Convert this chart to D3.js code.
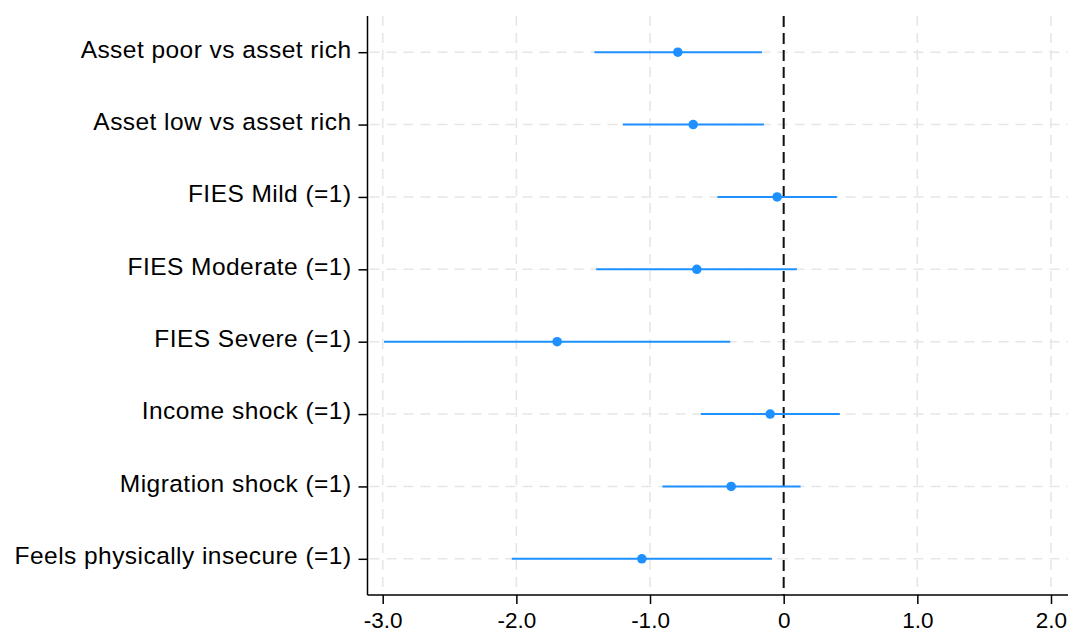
<!DOCTYPE html>
<html>
<head>
<meta charset="utf-8">
<script src="https://cdn.jsdelivr.net/npm/d3@7"></script>
<style>
  html, body { margin: 0; padding: 0; background: #fff; }
  svg { display: block; font-family: "Liberation Sans", Arial, sans-serif; }
</style>
</head>
<body>
<svg id="chart" width="1068" height="630"></svg>
<script>
const categories = [
  "Asset poor vs asset rich",
  "Asset low vs asset rich",
  "FIES Mild (=1)",
  "FIES Moderate (=1)",
  "FIES Severe (=1)",
  "Income shock (=1)",
  "Migration shock (=1)",
  "Feels physically insecure (=1)"
];
const estimates = [-0.792, -0.677, -0.049, -0.650, -1.695, -0.101, -0.393, -1.061];
const lower =     [-1.416, -1.204, -0.495, -1.403, -2.990, -0.620, -0.907, -2.034];
const upper =     [-0.163, -0.148,  0.398,  0.099, -0.400,  0.420,  0.126, -0.088];
const xTicks = [-3, -2, -1, 0, 1, 2];
const xTickLabels = ["-3.0", "-2.0", "-1.0", "0", "1.0", "2.0"];

const svg = d3.select("#chart");
const plotLeft = 367.5, plotRight = 1068, plotTop = 16, plotBottom = 595;
const x = d3.scaleLinear().domain([-3, 2]).range([382.7, 1051]);
const y = d3.scalePoint().domain(categories).range([plotTop, plotBottom]).padding(0.5);

const blue = "#1e90ff";

// vertical gridlines
svg.append("g").selectAll("line").data(xTicks).join("line")
  .attr("x1", d => x(d)).attr("x2", d => x(d))
  .attr("y1", plotTop).attr("y2", plotBottom)
  .attr("stroke", "#e6e6e6").attr("stroke-width", 1.6)
  .attr("stroke-dasharray", "10,7");

// horizontal gridlines
svg.append("g").selectAll("line").data(categories).join("line")
  .attr("x1", plotLeft + 2).attr("x2", plotRight)
  .attr("y1", d => y(d)).attr("y2", d => y(d))
  .attr("stroke", "#e6e6e6").attr("stroke-width", 1.6)
  .attr("stroke-dasharray", "10,7");

// zero reference line
svg.append("line")
  .attr("x1", x(0)).attr("x2", x(0))
  .attr("y1", plotTop).attr("y2", plotBottom)
  .attr("stroke", "#111").attr("stroke-width", 2)
  .attr("stroke-dasharray", "11,6");

// x axis
const xAxis = d3.axisBottom(x).tickValues(xTicks)
  .tickFormat((d, i) => xTickLabels[i]).tickSize(9).tickPadding(8).tickSizeOuter(0);
const gx = svg.append("g").attr("transform", `translate(0,${plotBottom})`).call(xAxis);
gx.select(".domain").attr("d", `M${plotLeft},0H${plotRight}`).attr("stroke", "#000").attr("stroke-width", 1.5);
gx.selectAll(".tick line").attr("stroke", "#000").attr("stroke-width", 1.5);
gx.selectAll(".tick text").attr("font-size", 22.5).attr("fill", "#000")
  .attr("font-family", "'Liberation Sans', Arial, sans-serif");

// y axis
const yAxis = d3.axisLeft(y).tickSize(9).tickPadding(7).tickSizeOuter(0);
const gy = svg.append("g").attr("transform", `translate(${plotLeft},0)`).call(yAxis);
gy.select(".domain").attr("d", `M0,${plotTop}V${plotBottom}`).attr("stroke", "#000").attr("stroke-width", 1.5);
gy.selectAll(".tick line").attr("stroke", "#000").attr("stroke-width", 1.5);
gy.selectAll(".tick text").attr("font-size", 24.5).attr("letter-spacing", "0.45px")
  .attr("fill", "#000").attr("dy", "0.2em")
  .attr("font-family", "'Liberation Sans', Arial, sans-serif");

// CI lines
svg.append("g").selectAll("line").data(categories).join("line")
  .attr("x1", (d, i) => x(lower[i])).attr("x2", (d, i) => x(upper[i]))
  .attr("y1", d => y(d)).attr("y2", d => y(d))
  .attr("stroke", blue).attr("stroke-width", 2);

// points
svg.append("g").selectAll("circle").data(categories).join("circle")
  .attr("cx", (d, i) => x(estimates[i])).attr("cy", d => y(d))
  .attr("r", 4.8).attr("fill", blue);
</script>
</body>
</html>
